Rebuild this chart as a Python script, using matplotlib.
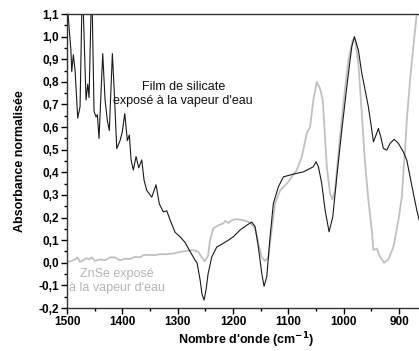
import numpy as np
import matplotlib
matplotlib.use("Agg")
import matplotlib.pyplot as plt
from matplotlib.ticker import MultipleLocator, FuncFormatter

plt.rcParams['font.family'] = ['Liberation Sans', 'DejaVu Sans']

# Film de silicate exposé à la vapeur d'eau (black)
film_x = [1498, 1496, 1493, 1491.5, 1488.6, 1485.5, 1480.7, 1476.5, 1472.3, 1465.7,
          1462.6, 1460.2, 1455.4, 1451.2, 1447.6, 1445.2, 1442.2, 1435.5, 1431.3, 1427.2,
          1423.6, 1418.1, 1415.1, 1410.2, 1404.2, 1400.1, 1395.7, 1391.0, 1387.4, 1384.3,
          1380.2, 1375.3, 1370.4, 1365.0, 1360.8, 1356.0, 1346.9, 1339.2, 1333.2, 1325.9,
          1319.8, 1313.9, 1304.8, 1295.8, 1286.7, 1277.7, 1268.7, 1265.1, 1259.6, 1256.0,
          1252.4, 1248.8, 1245.2, 1238.5, 1229.4, 1220.4, 1208.5, 1199.5, 1187.3, 1175.2,
          1166.2, 1160.2, 1154.3, 1148.1, 1144.0, 1139.1, 1133.1, 1127.2, 1118.1, 1109.1,
          1091.0, 1072.9, 1060.8, 1054.9, 1050.0, 1045.8, 1039.7, 1033.7, 1026.5, 1019.8,
          1012.6, 1003.5, 994.5, 985.5, 980.8, 973.5, 967.4, 961.4, 955.5, 949.3,
          946.4, 941.6, 937.4, 933.1, 928.4, 922.2, 916.2, 909.0, 901.2, 892.2,
          886.1, 880.1, 874.2, 868.0, 863.8]
film_y = [1.095, 1.03, 0.94, 0.845, 0.92, 0.85, 0.64, 0.69, 1.25, 0.72,
          0.79, 0.73, 1.25, 0.67, 0.645, 0.655, 0.55, 0.925, 0.72, 0.63,
          0.585, 0.925, 0.78, 0.505, 0.54, 0.58, 0.66, 0.54, 0.565, 0.455,
          0.41, 0.47, 0.42, 0.455, 0.365, 0.32, 0.29, 0.345, 0.26, 0.225,
          0.23, 0.19, 0.135, 0.115, 0.09, 0.05, 0.012, 0.0, -0.075, -0.14,
          -0.165, -0.12, -0.05, 0.026, 0.07, 0.082, 0.10, 0.115, 0.145, 0.166,
          0.18, 0.16, 0.07, -0.047, -0.104, -0.062, 0.115, 0.262, 0.336, 0.38,
          0.392, 0.402, 0.417, 0.425, 0.447, 0.425, 0.35, 0.233, 0.137, 0.203,
          0.38, 0.587, 0.778, 0.955, 1.0, 0.94, 0.838, 0.764, 0.69, 0.587,
          0.535, 0.565, 0.594, 0.557, 0.506, 0.498, 0.528, 0.546, 0.528, 0.49,
          0.454, 0.38, 0.307, 0.233, 0.19]

# ZnSe exposé à la vapeur d'eau (gray)
znse_x = [1500, 1491.5, 1485.5, 1481.4, 1476.5, 1470.5, 1465.7, 1459.7, 1455.4, 1449.4,
          1440.4, 1431.3, 1422.3, 1413.3, 1404.2, 1395.2, 1386.1, 1377.1, 1368.1, 1362.1,
          1353.1, 1341.0, 1331.9, 1319.8, 1307.9, 1295.8, 1283.7, 1271.7, 1262.7, 1256.6,
          1251.5, 1245.2, 1241.6, 1235.6, 1226.6, 1217.5, 1214.4, 1208.5, 1202.3, 1193.3,
          1181.4, 1169.3, 1160.2, 1154.3, 1148.1, 1142.2, 1136.2, 1131.8, 1124.1, 1115.0,
          1106.0, 1100.0, 1093.9, 1084.9, 1075.8, 1066.8, 1060.8, 1054.9, 1048.7, 1042.8,
          1037.9, 1030.6, 1024.7, 1020.5, 1015.6, 1009.7, 1000.6, 991.6, 983.7, 979.5,
          973.5, 967.4, 961.4, 955.5, 949.3, 946.4, 940.3, 934.3, 927.1, 919.3,
          910.3, 901.2, 895.1, 892.2, 889.1, 886.1, 880.1, 874.2, 869.4, 865.8]
znse_y = [0.004, 0.008, 0.015, 0.024, 0.004, 0.011, 0.02, 0.015, 0.024, 0.008,
          0.015, 0.011, 0.024, 0.024, 0.011, 0.018, 0.017, 0.026, 0.024, 0.034,
          0.035, 0.034, 0.038, 0.038, 0.041, 0.048, 0.053, 0.056, 0.048, 0.024,
          0.007, 0.03, 0.10, 0.152, 0.166, 0.174, 0.185, 0.176, 0.188, 0.193,
          0.188, 0.178, 0.152, 0.085, 0.024, 0.008, 0.024, 0.115, 0.262, 0.32,
          0.343, 0.358, 0.38, 0.41, 0.469, 0.572, 0.601, 0.72, 0.80, 0.771,
          0.72, 0.425, 0.307, 0.28, 0.32, 0.483, 0.705, 0.897, 0.985, 0.99,
          0.882, 0.66, 0.44, 0.277, 0.144, 0.056, 0.063, 0.026, 0.0, 0.015,
          0.07, 0.188, 0.29, 0.40, 0.50, 0.63, 0.81, 0.955, 1.07, 1.15]

fig = plt.figure(figsize=(4.19, 3.51), dpi=100)
ax = fig.add_axes([0.16, 0.1225, 0.84, 0.8375])

ax.plot(znse_x, znse_y, color='#c0c0c0', lw=1.3)
ax.plot(film_x, film_y, color='#1a1a1a', lw=0.8)

ax.set_xlim(1500, 864)
ax.set_ylim(-0.2, 1.1)

ax.spines['right'].set_visible(False)
for s in ['left', 'bottom', 'top']:
    ax.spines[s].set_linewidth(1.0)
    ax.spines[s].set_color('#333333')

ax.xaxis.set_major_locator(MultipleLocator(100))
ax.xaxis.set_minor_locator(MultipleLocator(50))
ax.yaxis.set_major_locator(MultipleLocator(0.1))
ax.yaxis.set_minor_locator(MultipleLocator(0.05))
ax.yaxis.set_major_formatter(FuncFormatter(lambda v, p: ('%.1f' % v).replace('.', ',').replace('-0,0', '0,0')))
ax.tick_params(which='major', direction='out', length=4, width=1, pad=2,
               labelsize=8.5, top=False, right=False)
ax.tick_params(which='minor', direction='out', length=2.5, width=1, top=False, right=False)
for lab in ax.get_xticklabels() + ax.get_yticklabels():
    lab.set_fontweight('bold')

ax.set_xlabel("Nombre d'onde (cm$^{\\mathbf{-1}}$)", fontsize=9, fontweight='bold')
ax.set_ylabel('Absorbance normalisée', fontsize=9, fontweight='bold')
ax.xaxis.set_label_coords(0.51, -0.075)
ax.yaxis.set_label_coords(-0.118, 0.5)

ax.text(1290, 0.745, 'Film de silicate\nexposé à la vapeur d\'eau', fontsize=9,
        ha='center', va='center', linespacing=1.25, color='#111111')
ax.text(1410, -0.081, 'ZnSe exposé\nà la vapeur d\'eau', fontsize=9,
        ha='center', va='center', linespacing=1.25, color='#b5b5b5')

fig.savefig('out.png', dpi=100)
